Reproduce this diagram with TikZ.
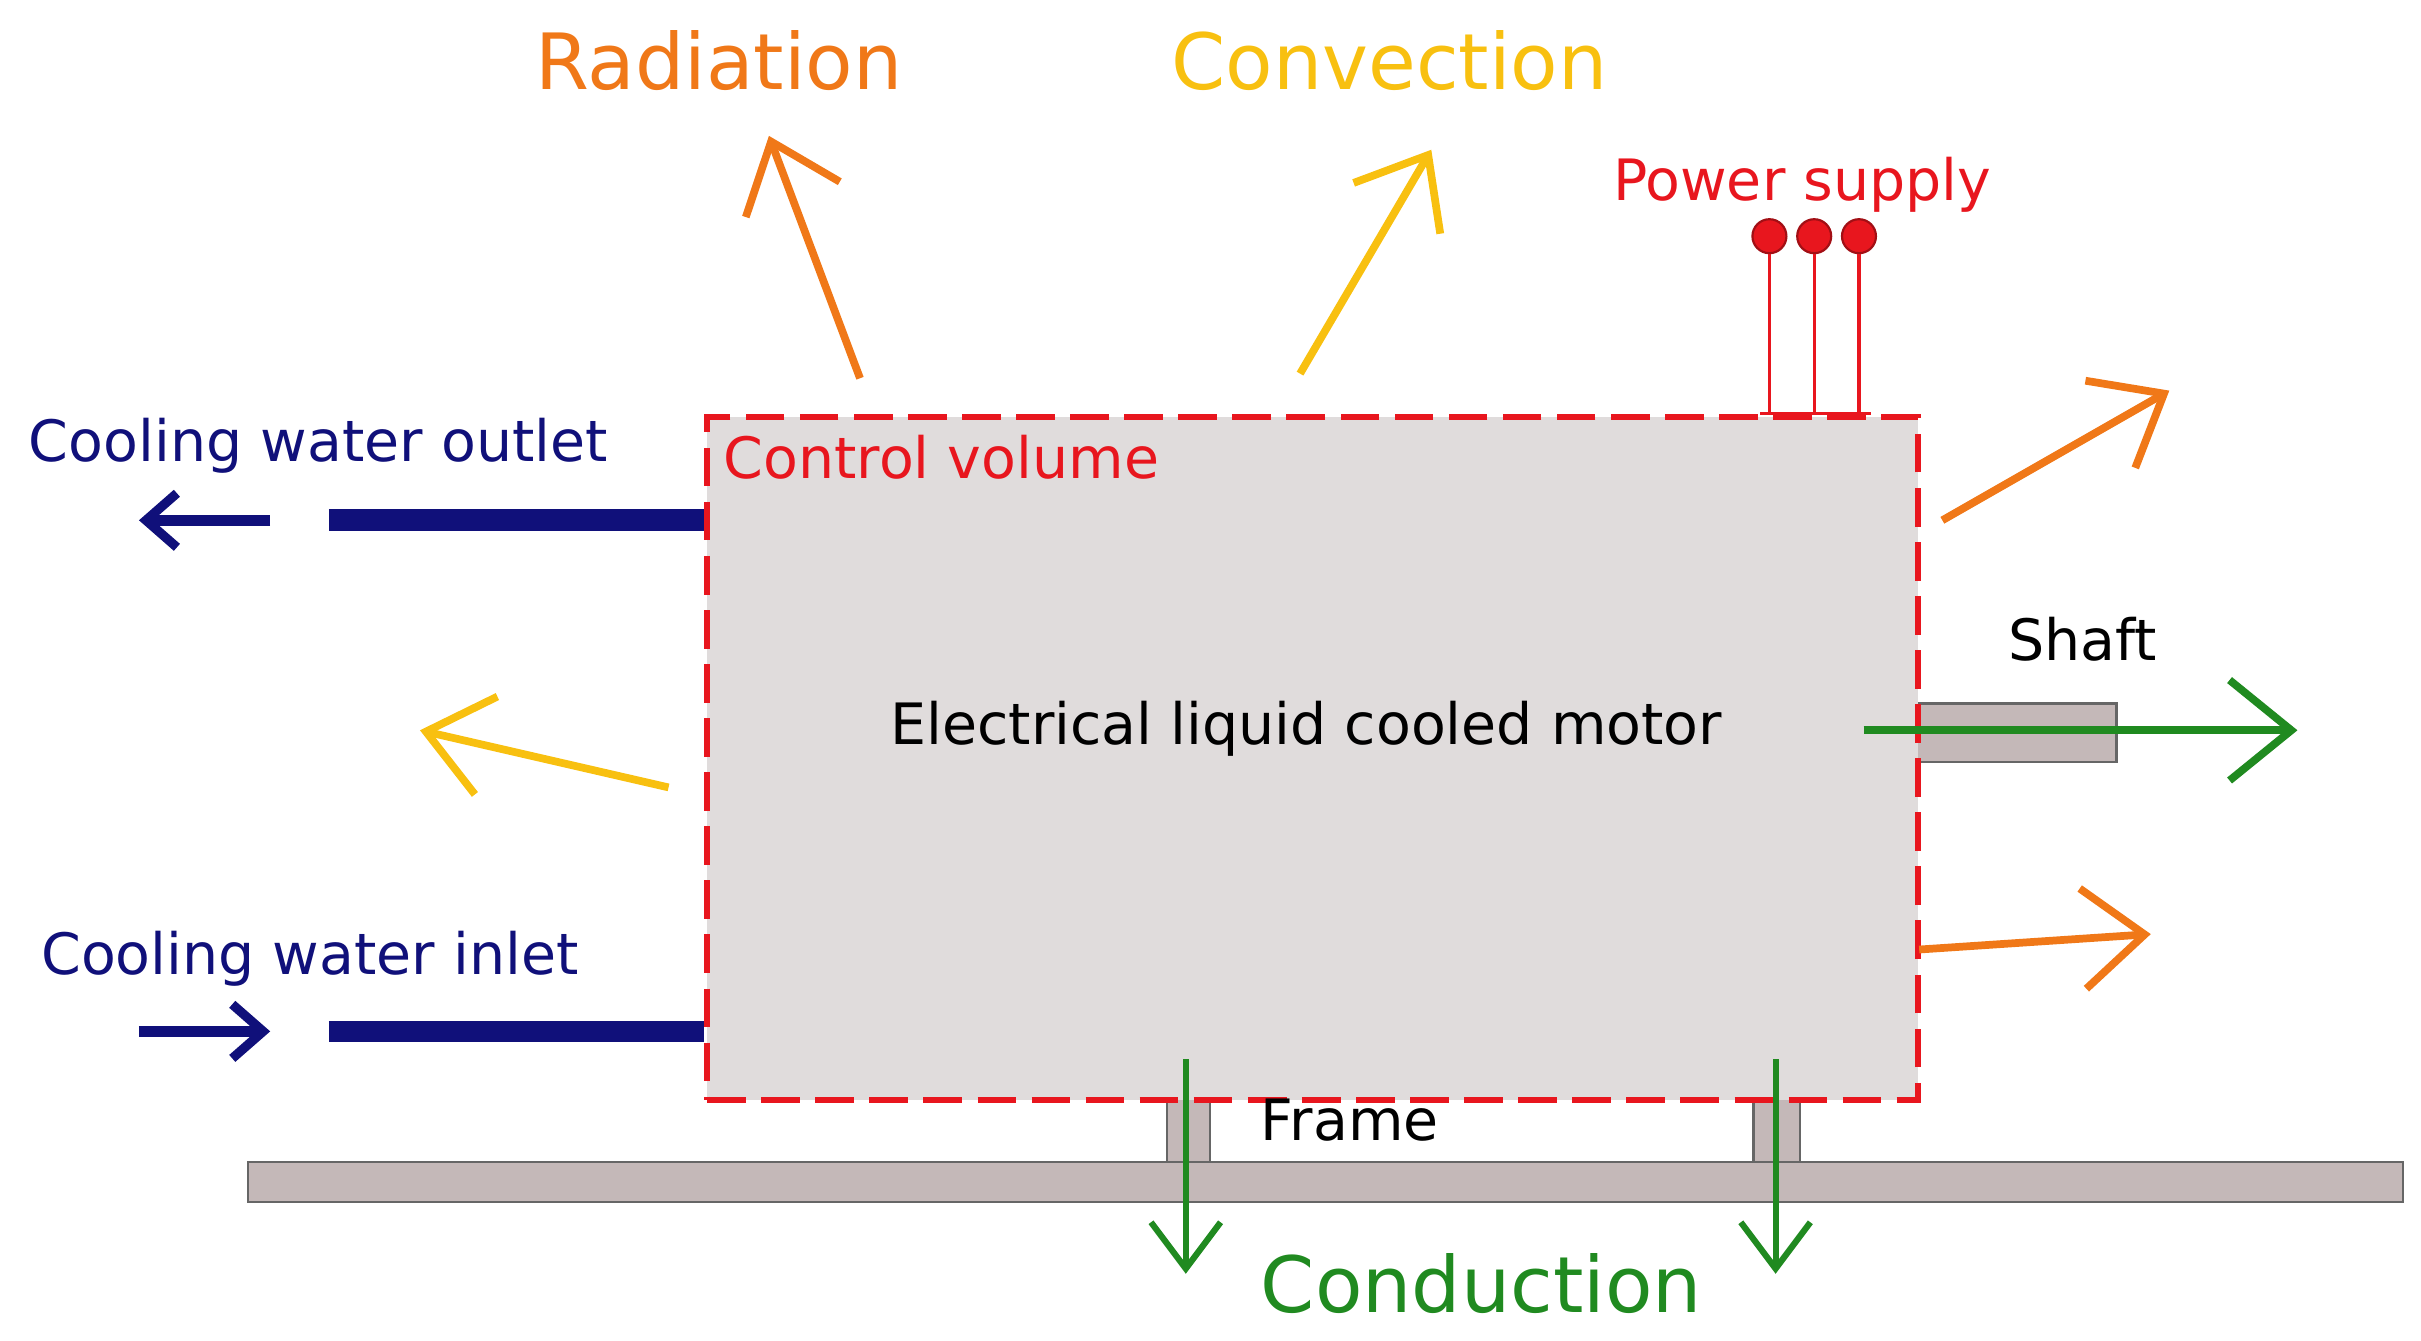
\documentclass[tikz,border=0pt]{standalone}
\usepackage{fontspec}
\setmainfont{DejaVu Sans}
\usetikzlibrary{arrows.meta}
\definecolor{navy}{HTML}{10107A}
\definecolor{orng}{HTML}{F07818}
\definecolor{yel}{HTML}{F8C010}
\definecolor{grn}{HTML}{208A20}
\definecolor{rd}{HTML}{E8161E}
\definecolor{boxg}{HTML}{E0DCDC}
\definecolor{frm}{HTML}{C4B8B8}
\begin{document}
\begin{tikzpicture}[x=0.01cm,y=-0.01cm,
  heat/.style={line width=0.05cm,-{Straight Barb[length=0.4cm,width=0.65cm,line width=0.05cm]}},
  lbl/.style={inner sep=0,anchor=base west},
  sm/.style={font=\fontsize{10.5}{12}\selectfont},
  big/.style={font=\fontsize{14.3}{16}\selectfont}]
\useasboundingbox (0,0) rectangle (1568,868);
% frame
\node[draw=black!60,fill=frm,minimum width=13.95cm,minimum height=0.26cm,inner sep=0,anchor=north west] (frame) at (160,752) {};
\node[draw=black!60,fill=frm,minimum width=0.28cm,minimum height=0.42cm,inner sep=0,anchor=north west] (foot1) at (755,710) {};
\node[draw=black!60,fill=frm,minimum width=0.3cm,minimum height=0.42cm,inner sep=0,anchor=north west] (foot2) at (1135,710) {};
\node[draw=black!60,fill=frm,minimum width=1.3cm,minimum height=0.38cm,inner sep=0,anchor=north west] (shaft) at (1240,455) {};
% box
\node[draw=rd,fill=boxg,dashed,dash pattern=on 0.25cm off 0.1cm,line width=0.04cm,minimum width=7.84cm,minimum height=4.42cm,inner sep=0,anchor=north west] (cv) at (456,268) {};
\node[lbl,sm,text=rd] (cvl) at (468,310) {Control volume};
\node[lbl,sm] (motor) at (576,482) {Electrical liquid cooled motor};
% pipes
\coordinate (po1) at (213,337); \coordinate (po2) at (456,337);
\coordinate (pi1) at (213,668); \coordinate (pi2) at (456,668);
\draw[navy,line width=0.14cm] (po1) -- (po2);
\draw[navy,line width=0.14cm] (pi1) -- (pi2);
\coordinate (oa1) at (175,337); \coordinate (oa2) at (90,337);
\coordinate (ia1) at (90,668); \coordinate (ia2) at (175,668);
\draw[navy,line width=0.07cm,-{Straight Barb[length=0.2cm,width=0.35cm,line width=0.06cm]}] (oa1) -- (oa2);
\draw[navy,line width=0.07cm,-{Straight Barb[length=0.2cm,width=0.35cm,line width=0.06cm]}] (ia1) -- (ia2);
\node[lbl,sm,text=navy] (outl) at (18,299) {Cooling water outlet};
\node[lbl,sm,text=navy] (inl) at (26,631) {Cooling water inlet};
% heat arrows
\coordinate (r1) at (557,245); \coordinate (r2) at (498,88);
\coordinate (c1) at (842,242); \coordinate (c2) at (927,97);
\coordinate (o1) at (1258,337); \coordinate (o2) at (1405,253);
\coordinate (o3) at (1243,615); \coordinate (o4) at (1393,605);
\coordinate (y1) at (433,510); \coordinate (y2) at (272,473);
\coordinate (s1) at (1207,473); \coordinate (s2) at (1488,473);
\coordinate (g1) at (768,686); \coordinate (g2) at (768,825);
\coordinate (g3) at (1150,686); \coordinate (g4) at (1150,825);
\draw[heat,orng] (r1) -- (r2);
\draw[heat,yel] (c1) -- (c2);
\draw[heat,orng] (o1) -- (o2);
\draw[heat,orng] (o3) -- (o4);
\draw[heat,yel] (y1) -- (y2);
\draw[heat,grn] (s1) -- (s2);
\draw[grn,line width=0.04cm,-{Straight Barb[length=0.3cm,width=0.45cm,line width=0.04cm]}] (g1) -- (g2);
\draw[grn,line width=0.04cm,-{Straight Barb[length=0.3cm,width=0.45cm,line width=0.04cm]}] (g3) -- (g4);
\node[lbl,big,text=orng] (rad) at (346,58) {Radiation};
\node[lbl,big,text=yel] (conv) at (758,58) {Convection};
\node[lbl,big,text=grn] (cond) at (816,850) {Conduction};
\node[lbl,sm] (shl) at (1300,428) {Shaft};
\node[lbl,sm] (frl) at (816,739) {Frame};
% power supply
\node[lbl,sm,text=rd] (ps) at (1044,130) {Power supply};
\foreach \i/\x in {1/1146,2/1175,3/1204}{
  \coordinate (pb\i) at (\x,268);
  \node[circle,fill=rd,draw=rd!70!black,minimum size=0.22cm,inner sep=0] (pt\i) at (\x,153) {};
  \draw[rd,line width=0.02cm] (pt\i) -- (pb\i);
}
\draw[rd,line width=0.02cm] (1140,268) -- (1212,268);
\end{tikzpicture}
\end{document}
